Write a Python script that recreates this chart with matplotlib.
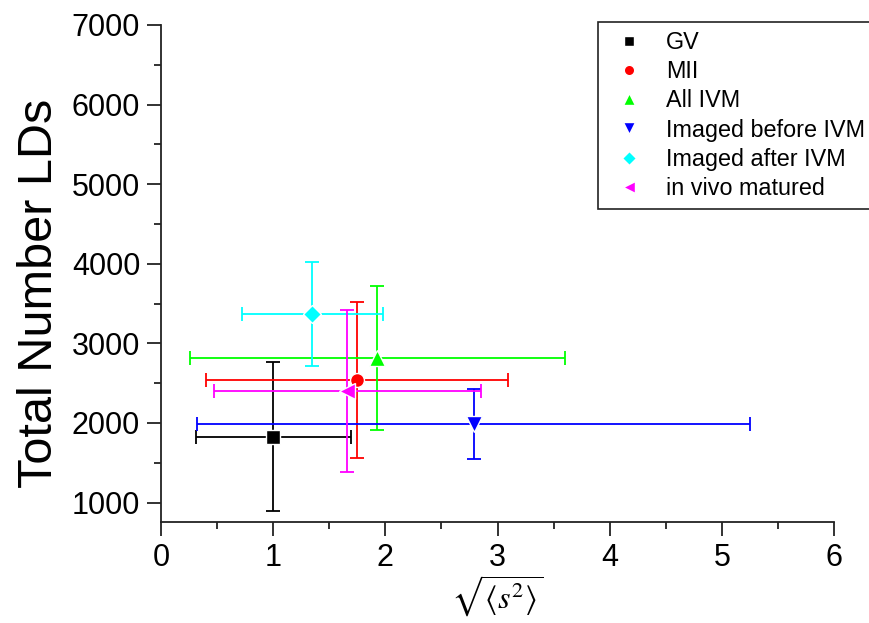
#!/usr/bin/env python3

import matplotlib
matplotlib.use("Agg")
import matplotlib.pyplot as plt
from matplotlib.ticker import MultipleLocator

# group labels, marker styles and colours
groups = ["GV", "MII", "All IVM", "Imaged before IVM", "Imaged after IVM", "in vivo matured"]
markers = ["s", "o", "^", "v", "D", "<"]
colors = ["#000000", "#ff0000", "#00ff00", "#0000ff", "#00ffff", "#ff00ff"]

# root mean squared displacement and its spread
rms_disp = [1.00, 1.75, 1.93, 2.79, 1.35, 1.66]
rms_err = [0.69, 1.345, 1.67, 2.465, 0.625, 1.19]

# total number of lipid droplets and its spread
n_lds = [1830, 2540, 2820, 1990, 3365, 2402]
n_lds_err = [930, 977, 905, 440, 655, 1016]

plt.rcParams["font.family"] = ["Liberation Sans", "DejaVu Sans"]
plt.rcParams["mathtext.fontset"] = "stix"


def scatter_with_errors():
    fig = plt.figure(figsize=(8.69, 6.23), dpi=100)
    ax = fig.add_axes([0.1853, 0.1626, 0.7744, 0.7973])

    handles = []
    for i, name in enumerate(groups):
        ax.errorbar(rms_disp[i], n_lds[i], xerr=rms_err[i], yerr=n_lds_err[i],
                    fmt="none", ecolor=colors[i], elinewidth=1.3,
                    capsize=5, capthick=1.3, zorder=2)
        ms = 10 if markers[i] != "D" else 9
        if markers[i] in ("^", "v", "<"):
            ms = 12
        h, = ax.plot(rms_disp[i], n_lds[i], linestyle="none", marker=markers[i],
                     markersize=ms, color=colors[i], markeredgecolor="white",
                     markeredgewidth=1.0, label=name, zorder=3)
        handles.append(h)

    ax.set_xlim(0, 6)
    ax.set_ylim(760, 7000)
    ax.xaxis.set_major_locator(MultipleLocator(1))
    ax.xaxis.set_minor_locator(MultipleLocator(0.5))
    ax.yaxis.set_major_locator(MultipleLocator(1000))
    ax.yaxis.set_minor_locator(MultipleLocator(500))

    ax.spines["top"].set_visible(False)
    ax.spines["right"].set_visible(False)
    for side in ("left", "bottom"):
        ax.spines[side].set_linewidth(1.3)
        ax.spines[side].set_color("#222222")
    ax.tick_params(which="major", direction="out", length=10, width=1.3,
                   labelsize=22, pad=5, color="#222222")
    ax.tick_params(which="minor", direction="out", length=5, width=1.3,
                   color="#222222")

    ax.set_ylabel("Total Number LDs", fontsize=35)
    ax.yaxis.set_label_coords(-0.147, 0.46)
    ax.set_xlabel(r"$\sqrt{\langle s^{2} \rangle}$", fontsize=23, labelpad=1)

    leg = ax.legend(handles=handles, loc="upper left",
                    bbox_to_anchor=(0.688, 0.965), bbox_transform=fig.transFigure,
                    borderaxespad=0, fontsize=16.8, frameon=True, fancybox=False,
                    framealpha=1, edgecolor="#222222", markerscale=0.75,
                    handlelength=1.9, handletextpad=0.65, labelspacing=0.27,
                    borderpad=0.38)
    leg.get_frame().set_linewidth(1.2)

    return fig


def main():
    fig = scatter_with_errors()
    fig.savefig("out.png", dpi=100)


if __name__ == "__main__":
    main()
